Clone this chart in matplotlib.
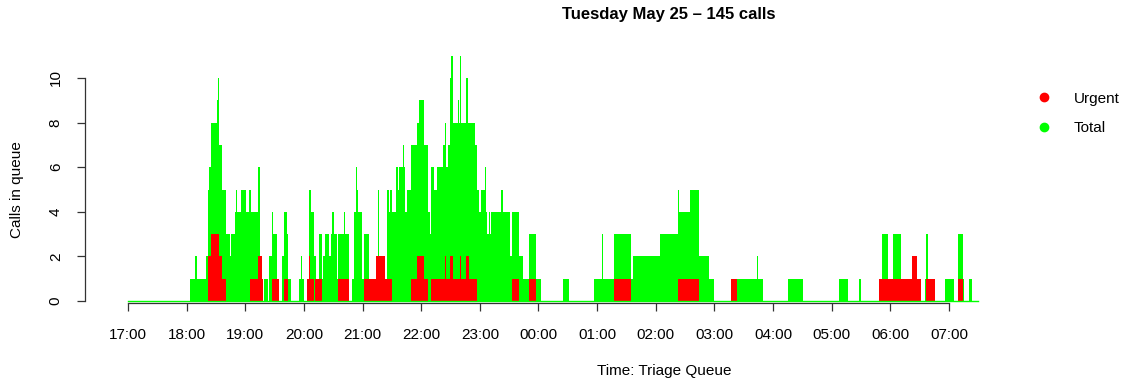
import numpy as np
import matplotlib
matplotlib.use('Agg')
import matplotlib.pyplot as plt
from matplotlib.lines import Line2D

plt.rcParams['font.family'] = ['Liberation Sans', 'DejaVu Sans']

# queue length, minutes after 17:00 where each level starts
total_start = [0, 63, 69, 71, 80, 82, 83, 85, 91, 92, 93, 96, 100, 104, 105, 109, 110, 112, 116, 121,
               124, 126, 133, 135, 137, 138, 139, 143, 144, 147, 148, 152, 154, 158, 160, 163, 164, 167,
               175, 177, 178, 180, 183, 185, 187, 190, 192, 195, 198, 200, 202, 206, 208, 209, 211, 214,
               215, 221, 222, 226, 229, 231, 233, 234, 235, 239, 241, 242, 243, 247, 254, 256, 257, 263,
               265, 267, 268, 270, 274, 276, 277, 281, 282, 283, 285, 290, 296, 298, 303, 307, 309, 310,
               313, 316, 322, 324, 325, 327, 329, 331, 333, 338, 339, 340, 341, 346, 348, 355, 357, 359,
               361, 365, 366, 367, 369, 370, 371, 382, 384, 391, 393, 400, 404, 410, 417, 423, 445, 451,
               477, 485, 486, 497, 515, 517, 544, 563, 564, 575, 584, 594, 600, 617, 644, 645, 650, 675,
               691, 728, 737, 748, 750, 768, 771, 778, 783, 791, 802, 807, 811, 815, 816, 819, 826, 836,
               845, 849, 854, 855, 861, 864]
total_n = [0, 1, 2, 1, 2, 5, 6, 8, 9, 10, 7, 5, 3, 2, 3, 4, 5, 4, 5, 4,
           5, 4, 6, 2, 1, 0, 1, 0, 2, 4, 3, 1, 0, 2, 4, 3, 1, 0,
           1, 2, 1, 0, 1, 5, 4, 2, 1, 3, 1, 2, 3, 2, 3, 4, 3, 1,
           3, 4, 3, 0, 1, 4, 6, 5, 4, 1, 3, 4, 3, 1, 2, 5, 2, 1,
           5, 4, 5, 4, 6, 5, 6, 7, 6, 4, 5, 7, 8, 9, 7, 4, 3, 6,
           5, 6, 7, 8, 6, 7, 10, 11, 8, 9, 8, 11, 8, 10, 8, 7, 5, 4,
           5, 6, 4, 3, 4, 3, 4, 5, 4, 2, 4, 2, 1, 3, 1, 0, 1, 0,
           1, 3, 1, 3, 1, 2, 3, 5, 4, 5, 2, 1, 0, 1, 2, 1, 0, 1,
           0, 1, 0, 1, 0, 1, 3, 1, 3, 1, 2, 1, 0, 1, 3, 1, 0, 1,
           0, 3, 1, 0, 1, 0]

urgent_start = [0, 82, 85, 93, 96, 100, 125, 133, 137, 138, 147, 154, 160, 164, 183, 185, 186, 190,
                191, 198, 215, 226, 241, 254, 263, 270, 290, 296, 303, 307, 310, 324, 325, 329, 333,
                340, 341, 346, 349, 357, 393, 400, 410, 417, 497, 515, 563, 584, 617, 623, 768, 802,
                807, 811, 816, 826, 849, 854]
urgent_n = [0, 2, 3, 2, 1, 0, 1, 2, 1, 0, 1, 0, 1, 0, 1, 2, 1, 0,
            1, 0, 1, 0, 1, 2, 1, 0, 1, 2, 1, 0, 1, 2, 1, 2, 1,
            2, 1, 2, 1, 0, 1, 0, 1, 0, 1, 0, 1, 0, 1, 0, 1, 2,
            1, 0, 1, 0, 1, 0]
end_min = 870

hour_labels = ['17:00', '18:00', '19:00', '20:00', '21:00', '22:00', '23:00', '00:00',
               '01:00', '02:00', '03:00', '04:00', '05:00', '06:00', '07:00']

assert len(total_start) == len(total_n)
assert len(urgent_start) == len(urgent_n)

W, H = 1125, 383
fig = plt.figure(figsize=(W / 100, H / 100), dpi=100)
# axes placed in pixel terms
left, right, top, bottom = 85, 1000, 50, 303
ax = fig.add_axes([left / W, 1 - bottom / H, (right - left) / W, (bottom - top) / H])

ax.stairs(total_n, total_start + [end_min], fill=True, color='#00FF00', lw=0)
ax.stairs(urgent_n, urgent_start + [end_min], fill=True, color='#FF0000', lw=0)
ax.plot([0, end_min], [0, 0], color='#00FF00', lw=1)

px_per_min = 58.64 / 60
ax.set_xlim(-(128 - left) / px_per_min, (right - 128) / px_per_min)
ax.set_ylim(-(bottom - 301) / 22.3, (301 - top) / 22.3)

for s in ['top', 'right']:
    ax.spines[s].set_visible(False)
ax.spines['left'].set_bounds(0, 10)
ax.spines['bottom'].set_bounds(0, 60 * (len(hour_labels) - 1))
for s in ['left', 'bottom']:
    ax.spines[s].set_color('#333333')
    ax.spines[s].set_linewidth(0.9)

ax.set_xticks([60 * i for i in range(len(hour_labels))])
ax.set_xticklabels(hour_labels, fontsize=11)
ax.set_yticks([0, 2, 4, 6, 8, 10])
ax.set_yticklabels(['0', '2', '4', '6', '8', '10'], fontsize=11, rotation=90, va='center')
ax.tick_params(axis='both', length=6, width=0.9, color='#333333', direction='out')
ax.tick_params(axis='x', pad=12)
ax.tick_params(axis='y', pad=10)

fig.text(669 / W, 1 - 14 / H, 'Tuesday May 25 \u2013 145 calls', ha='center', va='center',
         fontsize=12, fontweight='bold')
fig.text(664 / W, 1 - 371 / H, 'Time: Triage Queue', ha='center', va='center', fontsize=11)
fig.text(17 / W, 1 - 190 / H, 'Calls in queue', ha='center', va='center', rotation=90, fontsize=11)

handles = [Line2D([], [], ls='none', marker='o', color='#FF0000', markersize=6),
           Line2D([], [], ls='none', marker='o', color='#00FF00', markersize=6)]
fig.legend(handles, ['Urgent', 'Total'], loc='upper left',
           bbox_to_anchor=(1019 / W, 1 - 78 / H), frameon=False, fontsize=11,
           labelspacing=1.0, handlelength=1.5, handletextpad=1.2)

fig.savefig('out.png', dpi=100)
